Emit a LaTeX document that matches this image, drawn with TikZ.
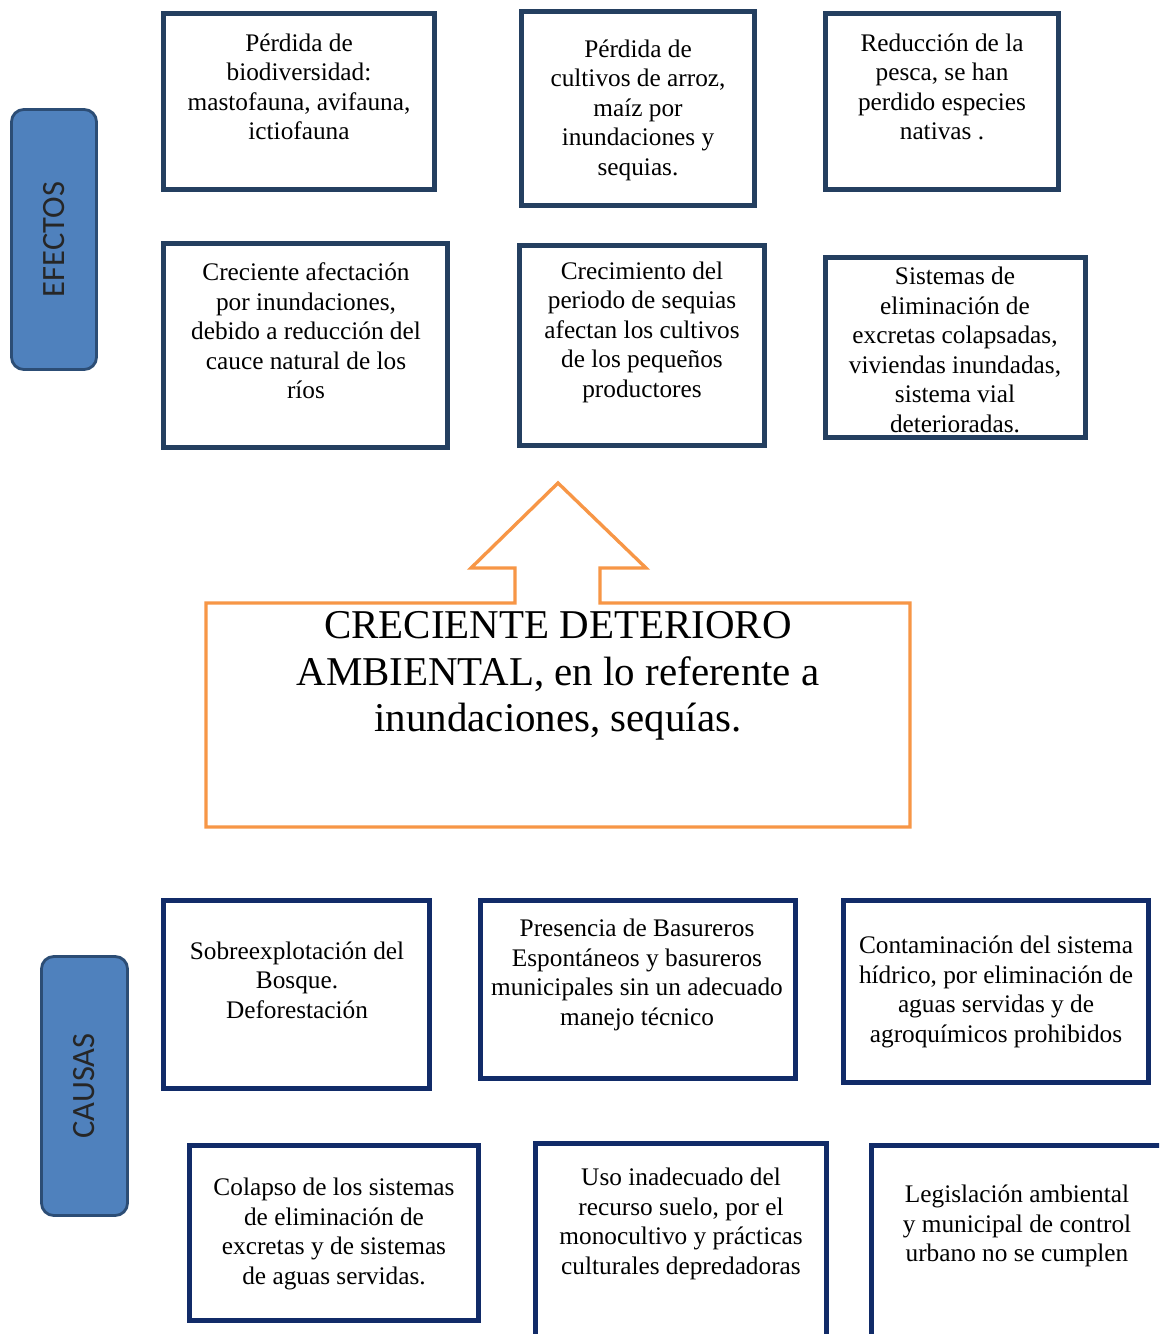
\documentclass[tikz,border=0pt]{standalone}
\usepackage{fontspec}
\setmainfont{Liberation Serif}
\newfontfamily\etiqueta{Carlito}
\usetikzlibrary{fit}
\definecolor{marino}{HTML}{243F60}
\definecolor{marinob}{HTML}{112B68}
\definecolor{azul}{HTML}{4F81BD}
\definecolor{bordeazul}{HTML}{2C4D75}
\definecolor{naranja}{HTML}{F79646}
\tikzset{
  caja/.style={draw=marino,line width=2.8pt,inner sep=0pt},
  cajab/.style={caja,draw=marinob},
  texto/.style={align=center,inner sep=0pt,font=\fontsize{14.4}{16.8}\selectfont},
  rotulo/.style={draw=bordeazul,fill=azul,line width=1.6pt,rounded corners=7pt,inner sep=0pt},
  rotulotexto/.style={rotate=90,inner sep=0pt,font=\etiqueta\fontsize{18.5}{20}\selectfont,text=black!85},
}
\begin{document}
\begin{tikzpicture}[x=0.02cm,y=-0.02cm]
  \clip (0,0) rectangle (1159,1334);
  \fill[white] (0,0) rectangle (1159,1334);

  % efectos
  \node[rotulo,fit={(11.5,109.5)(96.5,369.5)}] (efectos) {};
  \node[rotulotexto] (efectost) at (efectos.center) {EFECTOS};

  \node[caja,fit={(163.5,13.5)(434.5,189.5)}] (e1) {};
  \node[texto] (e1t) at (299,87) {Pérdida de\\biodiversidad:\\mastofauna, avifauna,\\ictiofauna};
  \node[caja,fit={(521.5,11.5)(754.5,205.5)}] (e2) {};
  \node[texto] (e2t) at (638,110) {Pérdida de\\cultivos de arroz,\\maíz por\\inundaciones y\\sequias.};
  \node[caja,fit={(825.5,13.5)(1058.5,189.5)}] (e3) {};
  \node[texto] (e3t) at (942,87) {Reducción de la\\pesca, se han\\perdido especies\\nativas .};

  \node[caja,fit={(163.5,243.5)(447.5,447.5)}] (e4) {};
  \node[texto] (e4t) at (306,331) {Creciente afectación\\por inundaciones,\\debido a reducción del\\cauce natural de los\\ríos};
  \node[caja,fit={(519.5,245.5)(764.5,445.5)}] (e5) {};
  \node[texto] (e5t) at (642,332) {Crecimiento del\\periodo de sequias\\afectan los cultivos\\de los pequeños\\productores};
  \node[caja,fit={(825.5,257.5)(1085.5,437.5)}] (e6) {};
  \node[texto] (e6t) at (955,350) {Sistemas de\\eliminación de\\excretas colapsadas,\\viviendas inundadas,\\sistema vial\\deterioradas.};

  % problema central
  \coordinate (p1) at (206,603);
  \coordinate (p2) at (910,827);
  \draw[naranja,line width=1.9pt,line join=miter]
    (p1) -- (515,603) -- (515,568) -- (471,568) -- (558,483) -- (646,568)
    -- (600,568) -- (600,603) -- (p2 |- p1) -- (p2) -- (p1 |- p2) -- cycle;
  \node[align=center,inner sep=0pt,font=\fontsize{23.3}{26.6}\selectfont] (central) at (558,676)
    {CRECIENTE DETERIORO\\AMBIENTAL, en lo referente a\\inundaciones, sequías.};

  % causas
  \node[rotulo,fit={(41.5,956.5)(127.5,1215.5)}] (causas) {};
  \node[rotulotexto] (causast) at (causas.center) {CAUSAS};

  \node[cajab,fit={(163.5,900.5)(429.5,1088.5)}] (c1) {};
  \node[texto] (c1t) at (297,980) {Sobreexplotación del\\Bosque.\\Deforestación};
  \node[cajab,fit={(480.5,900.5)(795.5,1078.5)}] (c2) {};
  \node[texto] (c2t) at (637,975) {Presencia de Basureros\\Espontáneos y basureros\\municipales sin un adecuado\\manejo técnico};
  \node[cajab,fit={(843.5,900.5)(1148.5,1082.5)}] (c3) {};
  \node[texto] (c3t) at (996,992) {Contaminación del sistema\\hídrico, por eliminación de\\aguas servidas y de\\agroquímicos prohibidos};

  \node[cajab,fit={(189.5,1145.5)(478.5,1320.5)}] (c4) {};
  \node[texto] (c4t) at (334,1234) {Colapso de los sistemas\\de eliminación de\\excretas y de sistemas\\de aguas servidas.};
  \node[cajab,fit={(535.5,1143.5)(826.5,1350)}] (c5) {};
  \node[texto] (c5t) at (681,1224) {Uso inadecuado del\\recurso suelo, por el\\monocultivo y prácticas\\culturales depredadoras};
  \node[cajab,fit={(871.5,1145.5)(1175,1350)}] (c6) {};
  \node[texto] (c6t) at (1017,1226) {Legislación ambiental\\y municipal de control\\urbano no se cumplen};
\end{tikzpicture}
\end{document}
